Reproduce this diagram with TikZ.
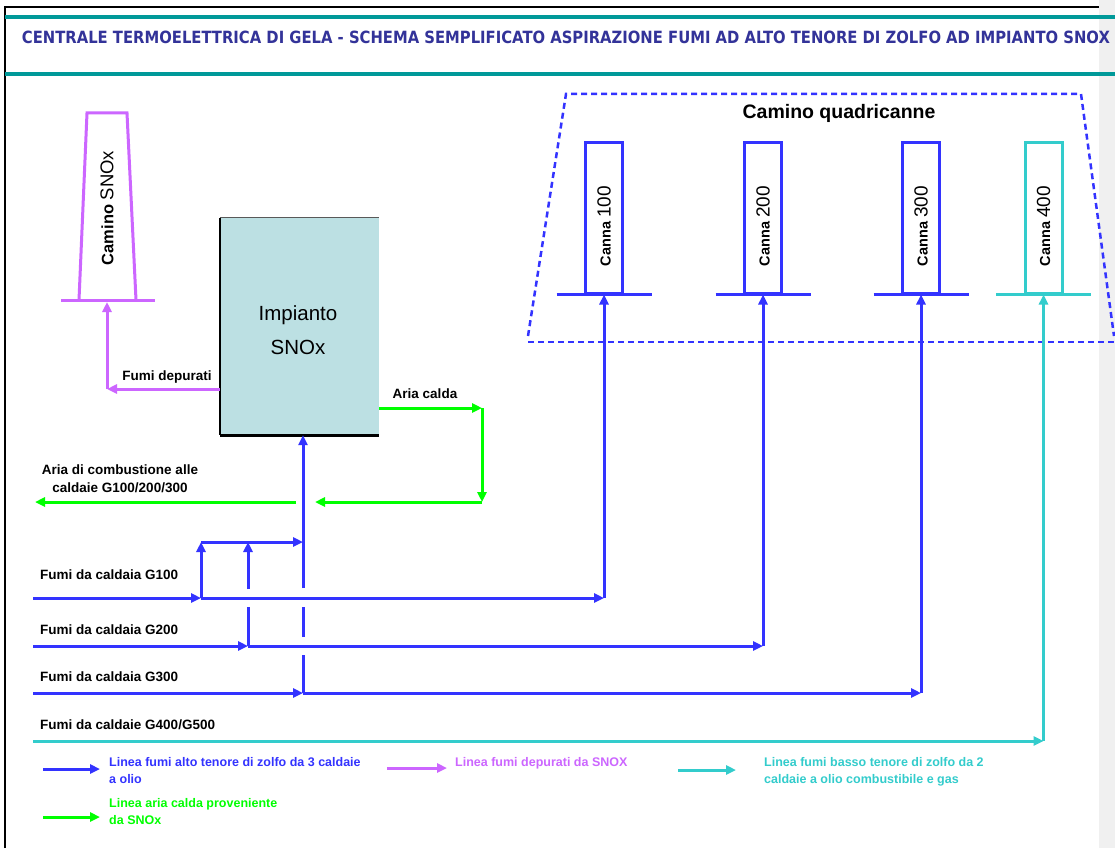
\documentclass[tikz,border=0pt]{standalone}
\usepackage{fontspec}
\usepackage{graphicx}
\setmainfont{Liberation Sans}
\newfontfamily\heavyfont{DejaVu Sans}
\usetikzlibrary{arrows.meta}

\definecolor{lnblue}{RGB}{51,51,255}
\definecolor{lngreen}{RGB}{0,255,0}
\definecolor{lncyan}{RGB}{51,204,204}
\definecolor{lnpurple}{RGB}{204,102,255}
\definecolor{frameteal}{RGB}{0,153,153}
\definecolor{titleblue}{RGB}{51,51,153}
\definecolor{plantfill}{RGB}{188,224,227}
\definecolor{stripgray}{RGB}{240,240,240}

\newcommand\lblfont{\fontsize{13.5}{18}\selectfont\bfseries}
\newcommand\keyfont{\fontsize{12.5}{17}\selectfont\bfseries}

\begin{document}
\begin{tikzpicture}[x=1pt,y=-1pt,
  arr/.style={-{Triangle[length=10pt,width=9pt]}},
  flow/.style={line width=3pt},
  hot/.style={flow,draw=lnblue},
  clean/.style={flow,draw=lnpurple},
  air/.style={flow,draw=lngreen},
  low/.style={flow,draw=lncyan},
  lbl/.style={inner sep=0pt,font=\lblfont,text=black},
  keytxt/.style={inner sep=0pt,anchor=north west,align=left,font=\keyfont},
  cannabox/.style={draw,line width=3pt,minimum width=37pt,minimum height=151pt,inner sep=0pt},
  cannatxt/.style={rotate=90,inner sep=0pt,text=black},
  outline/.style={draw=lnblue,line width=2.5pt,dash pattern=on 6pt off 4pt}
]
\useasboundingbox (0,0) rectangle (1115,848);
\fill[white] (0,0) rectangle (1115,848);
\fill[stripgray] (1099,0) rectangle (1115,848);

% page frame and title band
\draw[line width=2.5pt] (5,848) -- (5,7) -- (1099,7);
\draw[frameteal,line width=4pt] (5,17) -- (1115,17);
\draw[frameteal,line width=4pt] (5,74) -- (1115,74);
\node[inner sep=0pt,text=titleblue] (title) at (566,37)
  {\resizebox{1088pt}{12.5pt}{\heavyfont\bfseries CENTRALE TERMOELETTRICA DI GELA - SCHEMA SEMPLIFICATO ASPIRAZIONE FUMI AD ALTO TENORE DI ZOLFO AD IMPIANTO SNOX}};

% SNOx stack
\draw[lnpurple,line width=3pt] (79,300) -- (87,113) -- (127,113) -- (136,300);
\draw[lnpurple,line width=3pt] (61,300) -- (155,300);
\node[cannatxt] (stacklbl) at (107,208)
  {\fontsize{16.5}{18}\selectfont\bfseries Camino\ \fontsize{18.5}{20}\mdseries SNOx};
\coordinate (stackbase) at (107,302);

% SNOx plant
\node[fill=plantfill,minimum width=159pt,minimum height=217pt,inner sep=0pt] (snox) at (299.5,326.5) {};
\draw[gray!70!black,line width=1pt] (snox.north west) -- (snox.north east);
\draw[line width=2pt] (snox.north west) -- (snox.south west);
\draw[line width=3pt] (snox.south west) -- (snox.south east);
\node[inner sep=0pt,align=center,font=\fontsize{20.5}{34}\selectfont] (snoxlbl) at (298,330) {Impianto\\SNOx};

% cleaned flue gas to the SNOx stack
\coordinate (fdcorner) at (107,389);
\draw[clean,arr] (fdcorner -| snox.west) -- (fdcorner);
\draw[clean,arr] (fdcorner) -- (stackbase);
\node[lbl] (fdlbl) at (167,377) {Fumi depurati};

% hot air from SNOx
\coordinate (acstart) at (379,408);
\coordinate (accorner) at (482,408);
\coordinate (acdown) at (482,502);
\coordinate (acgap) at (315,502);
\coordinate (acresume) at (296,502);
\coordinate (acend) at (35,502);
\draw[air,arr] (acstart) -- (accorner);
\draw[air,arr] (accorner) -- (acdown);
\draw[air,arr] (acdown) -- (acgap);
\draw[air,arr] (acresume) -- (acend);
\node[lbl] (aclbl) at (425,394) {Aria calda};
\node[lbl,align=center] (comblbl) at (120,479) {Aria di combustione alle\\caldaie G100/200/300};

% four-flue stack
\draw[outline] (528,336) -- (566,94) -- (1081,94) -- (1114,336);
\draw[outline] (528,342) -- (1115,342);
\node[lbl,font=\fontsize{19.5}{22}\selectfont\bfseries] (quadlbl) at (839,113) {Camino quadricanne};

\node[cannabox,draw=lnblue] (c1) at (604,217.5) {};
\node[cannabox,draw=lnblue] (c2) at (763,217.5) {};
\node[cannabox,draw=lnblue] (c3) at (921,217.5) {};
\node[cannabox,draw=lncyan] (c4) at (1043.5,217.5) {};
\foreach \c/\col in {c1/lnblue,c2/lnblue,c3/lnblue,c4/lncyan}
  \draw[\col,line width=3pt] ([xshift=-47.5pt]\c.south) -- ([xshift=47.5pt]\c.south);
\node[cannatxt] (c1lbl) at (604,226) {\fontsize{14.5}{16}\selectfont\bfseries Canna\ \fontsize{19}{20}\mdseries 100};
\node[cannatxt] (c2lbl) at (763,226) {\fontsize{14.5}{16}\selectfont\bfseries Canna\ \fontsize{19}{20}\mdseries 200};
\node[cannatxt] (c3lbl) at (921,226) {\fontsize{14.5}{16}\selectfont\bfseries Canna\ \fontsize{19}{20}\mdseries 300};
\node[cannatxt] (c4lbl) at (1043.5,226) {\fontsize{14.5}{16}\selectfont\bfseries Canna\ \fontsize{19}{20}\mdseries 400};

% boiler flue lines
\coordinate (g1a) at (33,598);  \coordinate (g1j) at (201,598); \coordinate (g1t) at (604,598);
\coordinate (g2a) at (33,646);  \coordinate (g2j) at (248,646); \coordinate (g2t) at (763,646);
\coordinate (g3a) at (33,693);  \coordinate (g3j) at (303,693); \coordinate (g3t) at (921,693);
\coordinate (g4a) at (33,741);  \coordinate (g4t) at (1043.5,741);
\coordinate (bya) at (201,542); \coordinate (byb) at (248,542); \coordinate (byc) at (303,542);

\draw[hot,arr] (g1a) -- (g1j);
\draw[hot,arr] (g1j) -- (g1t);
\draw[hot,arr] (g1t) -- (c1.south);
\draw[hot,arr] (g2a) -- (g2j);
\draw[hot,arr] (g2j) -- (g2t);
\draw[hot,arr] (g2t) -- (c2.south);
\draw[hot,arr] (g3a) -- (g3j);
\draw[hot,arr] (g3j) -- (g3t);
\draw[hot,arr] (g3t) -- (c3.south);
\draw[low,arr] (g4a) -- (g4t);
\draw[low,arr] (g4t) -- (c4.south);

% bypass to SNOx, broken where it passes the flue lines
\draw[hot,arr] (g1j) -- (bya);
\draw[hot,arr] (bya) -- (byc);
\draw[hot] (g2j) -- (248,607);
\draw[hot,arr] (248,589) -- (byb);
\draw[hot] (g3j) -- (303,655) (303,637) -- (303,607);
\draw[hot,arr] (303,588) -- (snox.south -| byc);

\node[lbl,anchor=west] (g1lbl) at (40,575) {Fumi da caldaia G100};
\node[lbl,anchor=west] (g2lbl) at (40,630) {Fumi da caldaia G200};
\node[lbl,anchor=west] (g3lbl) at (40,677) {Fumi da caldaia G300};
\node[lbl,anchor=west] (g4lbl) at (40,725) {Fumi da caldaie G400/G500};

% legend
\coordinate (k1a) at (43,769);  \coordinate (k1b) at (100,769);
\coordinate (k2a) at (387,768); \coordinate (k2b) at (447,768);
\coordinate (k3a) at (678,770); \coordinate (k3b) at (736,770);
\coordinate (k4a) at (43,817);  \coordinate (k4b) at (100,817);
\draw[hot,arr] (k1a) -- (k1b);
\draw[clean,arr] (k2a) -- (k2b);
\draw[low,arr] (k3a) -- (k3b);
\draw[air,arr] (k4a) -- (k4b);
\node[keytxt,text=lnblue] (k1txt) at (109,757) {Linea fumi alto tenore di zolfo da 3 caldaie\\a olio};
\node[keytxt,text=lnpurple] (k2txt) at (455,757) {Linea fumi depurati da SNOX};
\node[keytxt,text=lncyan] (k3txt) at (764,757) {Linea fumi basso tenore di zolfo da 2\\caldaie a olio combustibile e gas};
\node[keytxt,text=lngreen] (k4txt) at (109,798) {Linea aria calda proveniente\\da SNOx};
\end{tikzpicture}
\end{document}
